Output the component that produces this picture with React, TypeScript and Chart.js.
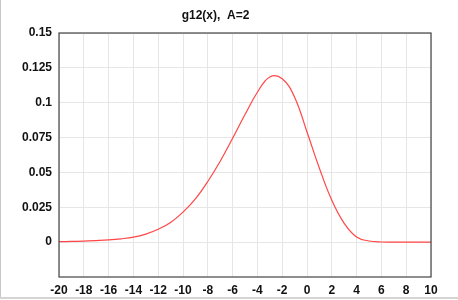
import React, { useEffect, useRef } from "react";
import { Chart, registerables } from "chart.js";

Chart.register(...registerables);

const xValues = [
  -20, -19, -18, -17, -16, -15, -14, -13, -12, -11, -10, -9, -8, -7, -6, -5, -4,
  -3, -2, -1, 0, 1, 2, 3, 4, 5, 6, 7, 8, 9, 10,
];
const yValues = [
  0.0003, 0.0005, 0.0007, 0.0011, 0.0016, 0.0024, 0.0036, 0.0058, 0.0092,
  0.0141, 0.0215, 0.031, 0.0435, 0.058, 0.0745, 0.0915, 0.1075, 0.1185,
  0.1172, 0.104, 0.079, 0.053, 0.03, 0.0135, 0.0037, 0.0008, 0.0001, 0, 0, 0, 0,
];
const xTicks = [-20, -18, -16, -14, -12, -10, -8, -6, -4, -2, 0, 2, 4, 6, 8, 10];
const yTickLabels = ["0", "0.025", "0.05", "0.075", "0.1", "0.125", "0.15"];
const titleText = "g12(x),  A=2";

const frame = {
  id: "frame",
  afterDraw(chart: any) {
    const { ctx, chartArea } = chart;
    ctx.save();
    ctx.strokeStyle = "#444";
    ctx.lineWidth = 1.2;
    ctx.strokeRect(
      chartArea.left,
      chartArea.top,
      chartArea.right - chartArea.left,
      chartArea.bottom - chartArea.top
    );
    ctx.restore();
  },
};

export default function App() {
  const ref = useRef<HTMLCanvasElement>(null);
  useEffect(() => {
    document.body.style.margin = "0";
    const font = { family: "'Liberation Sans', Arial, sans-serif", size: 12, weight: "bold" as const };
    const chart = new Chart(ref.current!, {
      type: "line",
      data: {
        datasets: [
          {
            data: xValues.map((x, i) => ({ x, y: yValues[i] })),
            borderColor: "rgb(255,70,70)",
            borderWidth: 1.2,
            pointRadius: 0,
            tension: 0.4,
            fill: false,
          },
        ],
      },
      options: {
        animation: false,
        responsive: false,
        layout: { padding: { left: 0, right: 27, top: 0, bottom: 0 } },
        plugins: {
          legend: { display: false },
          tooltip: { enabled: false },
          title: {
            display: true,
            text: titleText,
            color: "#111",
            font,
            padding: { top: 8, bottom: 10.6 },
          },
        },
        scales: {
          x: {
            type: "linear",
            min: -20,
            max: 10,
            afterFit(s: any) {
              s.height = 23;
            },
            afterBuildTicks(s: any) {
              s.ticks = xTicks.map((v) => ({ value: v }));
            },
            ticks: { color: "#111", font, padding: 6, maxRotation: 0, autoSkip: false },
            grid: { color: "#e6e6e6", drawTicks: false },
            border: { display: false },
          },
          y: {
            type: "linear",
            min: -0.025,
            max: 0.15,
            afterFit(s: any) {
              s.width = 59;
            },
            afterBuildTicks(s: any) {
              s.ticks = yTickLabels.map((t) => ({ value: parseFloat(t) }));
            },
            ticks: {
              color: "#111",
              font,
              padding: 7,
              callback: (v: any) => {
                const idx = yTickLabels.findIndex((t) => Math.abs(parseFloat(t) - v) < 1e-9);
                return idx >= 0 ? yTickLabels[idx] : "";
              },
            },
            grid: { color: "#e6e6e6", drawTicks: false },
            border: { display: false },
          },
        },
      },
      plugins: [frame],
    });
    return () => chart.destroy();
  }, []);
  return (
    <div style={{ position: "absolute", left: 0, top: 0, width: 458, height: 300, background: "#fff" }}>
      <canvas ref={ref} width={458} height={300} style={{ display: "block" }} />
      <div style={{ position: "absolute", left: 0, top: 0, width: 1, height: 299, background: "#c8c8c8" }} />
      <div style={{ position: "absolute", left: 0, top: 297, width: 458, height: 2, background: "#d4d4d4" }} />
    </div>
  );
}
